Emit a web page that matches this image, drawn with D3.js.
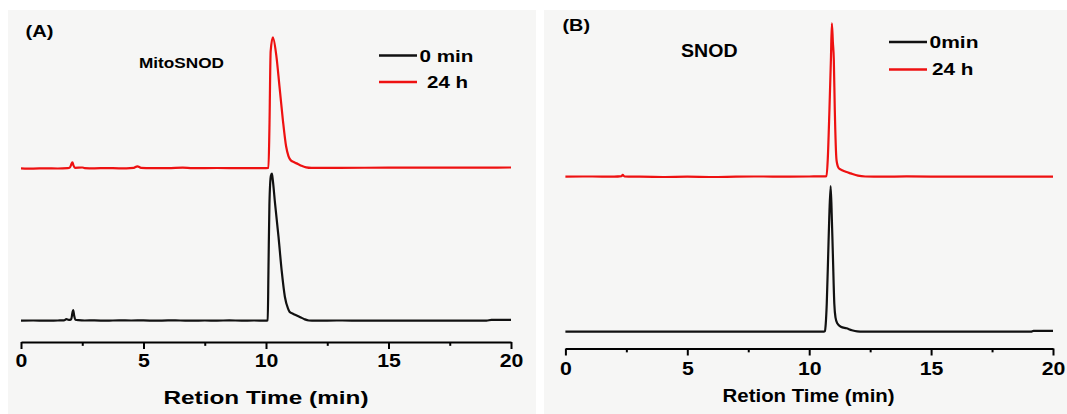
<!DOCTYPE html>
<html>
<head>
<meta charset="utf-8">
<script src="https://cdn.jsdelivr.net/npm/d3@7"></script>
<style>
  html, body { margin: 0; padding: 0; background: #ffffff; }
  svg { display: block; font-family: Arial, "Liberation Sans", sans-serif; }
</style>
</head>
<body>
<svg id="chart" width="1067" height="414"></svg>
<script>
// ---------- data ----------
const timeTicks = [0, 5, 10, 15, 20];
const minorTicks = [2.5, 7.5, 12.5, 17.5];
const axisTitle = "Retion Time (min)";
const panelLabels = ["(A)", "(B)"];
const compoundNames = ["MitoSNOD", "SNOD"];
const legendA = ["0 min", " 24 h"];
const legendB = ["0min", "24 h"];
const seriesColors = ["#111111", "#ee1111"];

// Panel A (MitoSNOD) – detector signal (arb. units), [time (min), signal]
const mitoT0 = [[0,0],[0.5,0.2],[1.0,0],[1.5,0.2],[1.75,0.3],[1.85,1.5],[1.95,0.8],[2.05,1.5],[2.1,8],[2.13,10.7],[2.17,5],[2.22,1],[2.35,0.5],[2.6,0.2],[3,0.3],[3.5,0],[4,0.4],[4.5,0.2],[5,0.3],[5.5,0],[6,0.3],[6.5,0.2],[7,0],[7.5,0.2],[8,0.1],[8.5,0.3],[9,0.1],[9.5,0.2],[10.0,0.1],[10.07,0.5],[10.1,50],[10.14,117],[10.2,145],[10.24,147],[10.28,140],[10.37,117],[10.51,84],[10.64,50],[10.77,24],[10.9,12],[10.96,9],[11.1,7],[11.23,5.5],[11.4,3.5],[11.57,1.5],[11.75,0.2],[12,0],[13,0.2],[14,0],[15,0.1],[16,0],[17,0.1],[18,0],[19,0],[19.2,0.8],[20,0.8]];
const mito24h = [[0,0],[0.5,-0.3],[1,0],[1.5,-0.2],[1.9,0.2],[2.0,1],[2.07,5],[2.1,6],[2.14,3],[2.2,0.5],[2.5,0.8],[2.6,0.2],[3,0],[3.5,0.2],[4,0],[4.6,0.5],[4.75,2],[4.9,0.5],[5.5,0.2],[6,0.1],[6.6,0.6],[7,0.2],[8,0.3],[9,0.2],[10,0.2],[10.1,0.3],[10.14,40],[10.19,117],[10.28,131],[10.42,113],[10.55,82],[10.69,48],[10.82,22],[10.92,12],[11.0,8.3],[11.15,6],[11.3,4.3],[11.45,2.5],[11.64,1],[11.85,0.5],[13,0.5],[15,0.6],[17,0.7],[19,0.7],[20,0.8]];
// Panel B (SNOD)
const snodT0 = [[0,0],[2,0],[4,0],[6,0],[8,0],[10,0],[10.6,0],[10.64,0.5],[10.68,8.4],[10.72,28],[10.78,78],[10.82,112],[10.88,145.7],[10.93,112],[10.97,78],[11.03,28],[11.08,14],[11.15,8.4],[11.3,5],[11.53,3.4],[11.75,1.5],[11.97,0.3],[12.2,0],[14,0],[16,0],[18,0],[19.1,0],[19.2,0.8],[20,0.8]];
const snod24h = [[0,0],[1,0.2],[2,0],[2.3,0.5],[2.35,1.8],[2.42,0.3],[3,0],[4,-0.3],[5,0],[6,-0.3],[7,0],[8,0.2],[9,0],[10,0.2],[10.6,0.3],[10.71,0.5],[10.76,16.7],[10.83,66.7],[10.89,116.7],[10.93,153.4],[10.97,135],[11.01,116.7],[11.05,66.7],[11.12,16.7],[11.2,9],[11.28,7.4],[11.5,5],[11.7,3.3],[12.0,1],[12.3,0.2],[13,0],[14,0.3],[16,0],[18,0],[20,0]];
// vertical offsets of stacked traces (arb. units)
const offsetsA = [0, 152.4];
const offsetsB = [0, 155];

// ---------- drawing ----------
const svg = d3.select("#chart");
svg.append("rect").attr("x", 0).attr("y", 0).attr("width", 1067).attr("height", 414).attr("fill", "#ffffff");
svg.append("rect").attr("x", 8).attr("y", 10).attr("width", 528).attr("height", 404).attr("fill", "#f6f6f5");
svg.append("rect").attr("x", 544).attr("y", 10).attr("width", 523).attr("height", 404).attr("fill", "#f6f6f5");

function stretchedText(g, str, x, y, size, width, weight, anchor) {
  return g.append("text")
    .attr("x", x).attr("y", y)
    .style("font-size", size + "px")
    .style("font-weight", weight)
    .attr("text-anchor", anchor || "start")
    .attr("textLength", width)
    .attr("lengthAdjust", "spacingAndGlyphs")
    .attr("fill", "#000")
    .text(str);
}

function panel(cfg) {
  const g = svg.append("g");
  const x = d3.scaleLinear().domain([0, 20]).range(cfg.xRange);
  const y = d3.scaleLinear().domain([0, 300]).range([cfg.base, cfg.base - 300]);

  const line = d3.line()
    .x(d => x(d[0]))
    .y(d => y(d[1]))
    .curve(d3.curveMonotoneX);

  cfg.series.forEach((s, i) => {
    const off = cfg.offsets[i];
    g.append("path")
      .datum(s.map(d => [d[0], d[1] + off]))
      .attr("fill", "none")
      .attr("stroke", seriesColors[i])
      .attr("stroke-width", 2.2)
      .attr("stroke-linejoin", "round")
      .attr("d", line);
  });

  // axis
  const ax = g.append("g").attr("transform", `translate(0,${cfg.axisY})`)
    .call(d3.axisBottom(x).tickValues(timeTicks).tickSize(cfg.tick).tickSizeOuter(0).tickPadding(cfg.pad));
  ax.attr("font-size", null).attr("font-family", null);
  ax.select(".domain").attr("stroke", "#000").attr("stroke-width", 2.2);
  ax.selectAll(".tick line").attr("stroke", "#000").attr("stroke-width", 2);
  ax.selectAll(".tick text")
    .style("font-size", "19px").style("font-weight", "bold").attr("fill", "#000")
    .style("font-family", "Arial, 'Liberation Sans', sans-serif")
    .attr("transform", "scale(1.12,1)");
  const mx = g.append("g").attr("transform", `translate(0,${cfg.axisY})`)
    .call(d3.axisBottom(x).tickValues(minorTicks).tickSize(cfg.tick * 0.55).tickFormat(""));
  mx.select(".domain").remove();
  mx.selectAll(".tick line").attr("stroke", "#000").attr("stroke-width", 2);

  // axis title
  stretchedText(g, axisTitle, cfg.title[0], cfg.title[1], cfg.title[2], cfg.title[3], "bold", "middle");
  // panel label & compound name
  stretchedText(g, cfg.label[0], cfg.label[1], cfg.label[2], cfg.label[3], cfg.label[4], "bold");
  stretchedText(g, cfg.name[0], cfg.name[1], cfg.name[2], cfg.name[3], cfg.name[4], "bold");

  // legend
  cfg.legend.forEach((txt, i) => {
    const L = cfg.legendPos[i];
    g.append("line")
      .attr("x1", L.x1).attr("x2", L.x2).attr("y1", L.ly).attr("y2", L.ly)
      .attr("stroke", seriesColors[i]).attr("stroke-width", 2.4);
    g.append("text")
      .attr("x", L.tx).attr("y", L.ty)
      .style("font-size", "17px").style("font-weight", "bold")
      .attr("textLength", L.tw).attr("lengthAdjust", "spacingAndGlyphs")
      .attr("fill", "#000")
      .text(txt.trim());
  });
}

panel({
  xRange: [21, 511], base: 320.7, axisY: 342, tick: 7, pad: 5,
  series: [mitoT0, mito24h], offsets: offsetsA,
  title: [266, 404, 19, 205],
  label: [panelLabels[0], 25.5, 37, 17, 28],
  name: [compoundNames[0], 139, 67.5, 14.5, 85],
  legend: legendA,
  legendPos: [
    {x1: 379, x2: 417, ly: 55.5, tx: 419.5, ty: 61.5, tw: 54},
    {x1: 379, x2: 417, ly: 82, tx: 427, ty: 87.5, tw: 41}
  ]
});

panel({
  xRange: [565.4, 1053], base: 331.7, axisY: 348.5, tick: 7, pad: 6,
  series: [snodT0, snod24h], offsets: offsetsB,
  title: [808.6, 401.7, 17.5, 172],
  label: [panelLabels[1], 562.5, 31, 17, 27.5],
  name: [compoundNames[1], 681, 56.5, 17.5, 56.5],
  legend: legendB,
  legendPos: [
    {x1: 889, x2: 927, ly: 42, tx: 929.5, ty: 48.3, tw: 49},
    {x1: 889, x2: 927, ly: 69.5, tx: 932, ty: 75, tw: 41.5}
  ]
});
</script>
</body>
</html>
